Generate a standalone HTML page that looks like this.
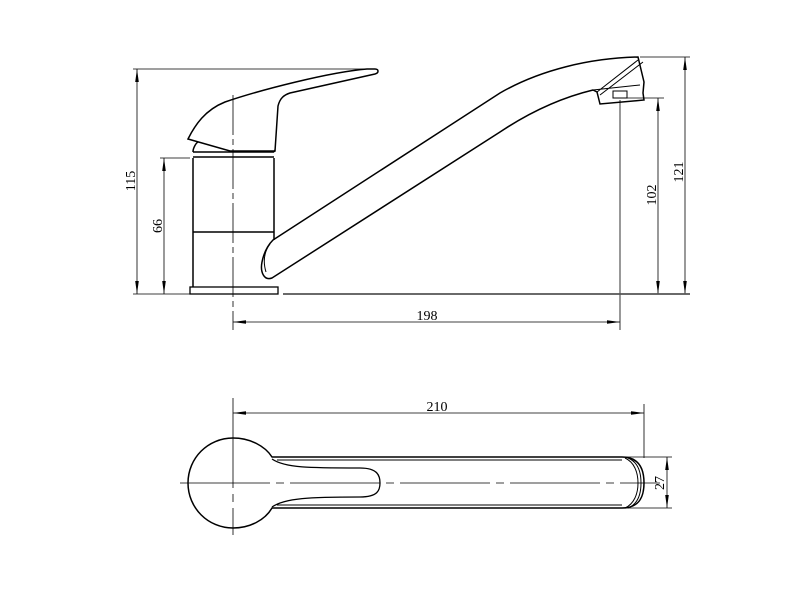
<!DOCTYPE html>
<html><head><meta charset="utf-8"><style>html,body{margin:0;padding:0;background:#fff;}svg{display:block}text{font-family:"Liberation Serif",serif;font-size:14px;fill:#000}</style></head>
<body>
<svg width="800" height="600" viewBox="0 0 800 600" xmlns="http://www.w3.org/2000/svg">
<defs>
<marker id="a" markerWidth="14" markerHeight="6" refX="13" refY="3" orient="auto-start-reverse" markerUnits="userSpaceOnUse"><path d="M0,1.2 L13,3 L0,4.8 Z" fill="#000"/></marker>
</defs>
<g stroke="#000" fill="none" stroke-width="1.5">
<path d="M188,139 L230,151 L275,151 L278,106 C280,98 284,95 290,93 L375,74 C379,73 379,69 375,69 L367,69 C330,72 260,90 225,102 C205,110 195,125 188,139 Z"/>
<path d="M193,158 L193,287 M274,158 L274,240 M193,152 L274,152 M193,157 L274,157 M193,232 L274,232"/>
<path d="M193,152 C193,148 196,143 198,142 M274,152 L275,150"/>
<rect x="190" y="287" width="88" height="7" stroke-width="1.3"/>
<path d="M273,240 L500,93 C540,70 590,58 638,57 L644,82 L643,93 L644,100 L600,104 L597,92 L593,90 C560,98 530,112 500,132 L272,278 C264,281 260,272 262,262 C264,252 268,245 273,240 Z"/>
<path d="M270,244 C264,252 263,262 266,272" stroke-width="1"/>
<path d="M593,90 L640,85 M597,92 L638,60 M600,95 L643,62" stroke-width="1"/>
<rect x="613" y="91" width="14" height="7" stroke-width="1"/>
<path d="M272,457 L622,457 C640,457 644,470 644,483 C644,496 640,508 622,508 L272,508 C265,520 250,528 233,528 C208,528 188,508 188,483 C188,458 208,438 233,438 C250,438 265,446 272,457 Z"/>
<path d="M277,460 L622,460 M277,505 L622,505 M625,458 C634,462 638,472 638,483 C638,494 634,504 625,508 M628,458 C638,462 641,472 641,483 C641,494 638,504 628,508" stroke-width="1"/>
<path d="M272,459 C285,468 310,468 360,468 C378,468 380,476 380,483 C380,490 378,497 360,497 C310,497 285,498 272,507" stroke-width="1.3"/>
</g>
<g stroke="#000" stroke-width="0.8" fill="none">
<path d="M233,95 L233,330" stroke-dasharray="40,4,6,4"/>
<path d="M233,398 L233,535 M180,483 L660,483" stroke-dasharray="90,6,8,6"/>
<path d="M133,69 L375,69 M133,294 L190,294 M160,158 L190,158"/>
<path d="M640,57 L690,57 M620,100 L620,330 M622,98 L664,98 M633,294 L690,294"/>
<path d="M644,404 L644,458 M625,457 L672,457 M625,508 L672,508"/>
<path d="M137,69 L137,294" marker-start="url(#a)" marker-end="url(#a)"/>
<path d="M164,158 L164,294" marker-start="url(#a)" marker-end="url(#a)"/>
<path d="M685,57 L685,294" marker-start="url(#a)" marker-end="url(#a)"/>
<path d="M658,98 L658,294" marker-start="url(#a)" marker-end="url(#a)"/>
<path d="M233,322 L620,322" marker-start="url(#a)" marker-end="url(#a)"/>
<path d="M233,413 L644,413" marker-start="url(#a)" marker-end="url(#a)"/>
<path d="M667,457 L667,508" marker-start="url(#a)" marker-end="url(#a)"/>
</g>
<path d="M283,294 L690,294" stroke="#555" stroke-width="1.8"/>
<text x="427" y="320" text-anchor="middle">198</text>
<text x="437" y="411" text-anchor="middle">210</text>
<text transform="translate(135,181) rotate(-90)" text-anchor="middle">115</text>
<text transform="translate(162,226) rotate(-90)" text-anchor="middle">66</text>
<text transform="translate(656,195) rotate(-90)" text-anchor="middle">102</text>
<text transform="translate(683,172) rotate(-90)" text-anchor="middle">121</text>
<text transform="translate(664,483) rotate(-90)" text-anchor="middle">27</text>
</svg>
</body></html>
